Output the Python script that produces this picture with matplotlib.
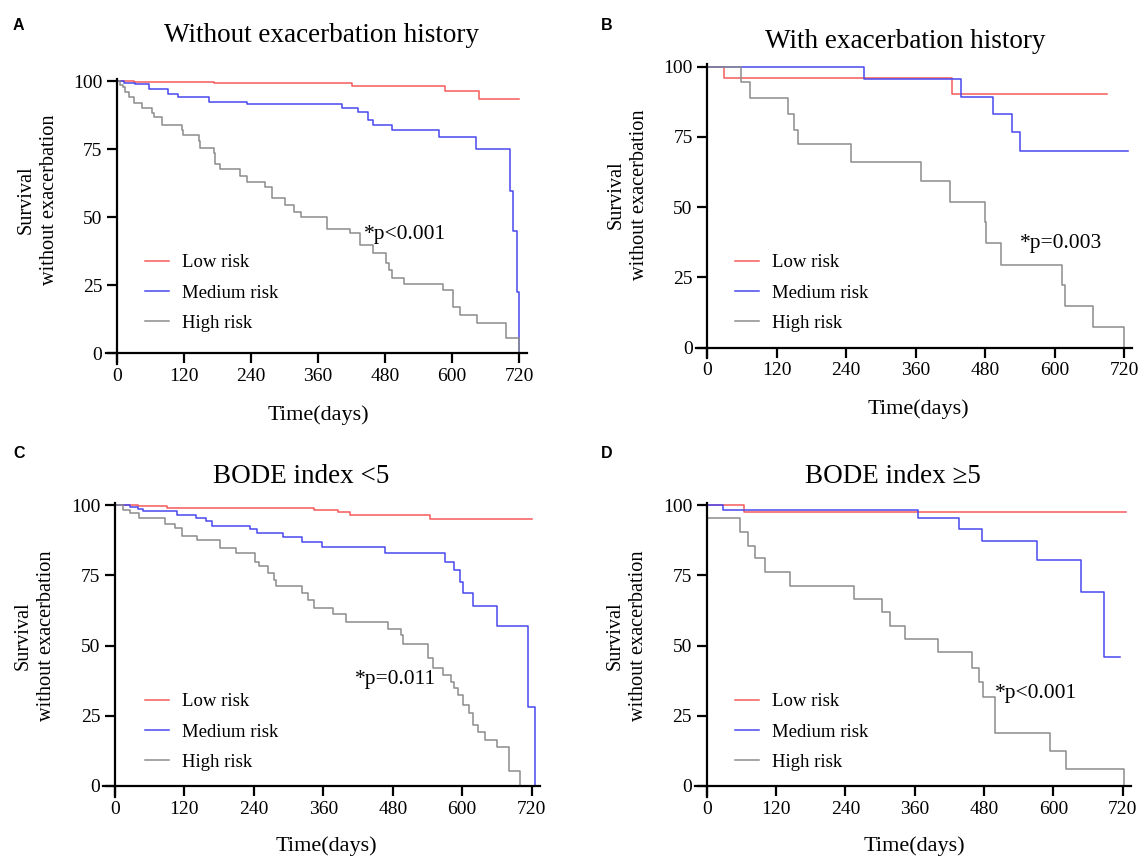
import matplotlib
matplotlib.use("Agg")
import matplotlib.pyplot as plt

plt.rcParams['font.family'] = ['Liberation Serif', 'DejaVu Serif']

# ---- data (days, survival %) ----
A_LOW_DAYS = [0, 30, 173, 421, 587, 648, 720]
A_LOW_SURV = [100, 99.7, 99.1, 98.3, 96.2, 93.3, 93.3]
A_MED_DAYS = [0, 12, 33, 58, 92, 110, 164, 232, 402, 432, 450, 459, 492, 576, 642, 703, 709, 716, 720]
A_MED_SURV = [100, 99.4, 98.8, 96.9, 95.2, 94.2, 92.4, 91.4, 90.0, 88.5, 85.7, 83.8, 82.0, 79.3, 74.9, 59.7, 44.9, 22.5, 0]
A_HIGH_DAYS = [0, 6, 11, 15, 21, 30, 45, 63, 66, 81, 116, 119, 146, 149, 173, 176, 185, 220, 232, 265,
               277, 301, 316, 329, 375, 417, 435, 459, 482, 486, 493, 513, 584, 602, 614, 644, 697, 720]
A_HIGH_SURV = [100, 98.5, 97.9, 96.1, 94.2, 92.0, 90.2, 88.4, 86.9, 83.8, 82.0, 80.1, 77.9, 75.5, 73.4, 69.7,
               67.5, 65.1, 63.0, 61.2, 56.9, 54.4, 52.0, 50.1, 45.8, 44.0, 39.7, 36.9, 33.0, 30.5, 27.5, 25.4,
               23.2, 17.0, 14.0, 11.3, 5.5, 0]

B_LOW_DAYS = [0, 29, 422, 690]
B_LOW_SURV = [100, 96.1, 90.2, 90.2]
B_MED_DAYS = [0, 271, 438, 493, 527, 540, 727]
B_MED_SURV = [100, 95.6, 89.3, 83.0, 76.6, 70.0, 70.0]
B_HIGH_DAYS = [0, 59, 73, 140, 150, 156, 248, 369, 420, 480, 482, 507, 613, 618, 666, 720]
B_HIGH_SURV = [100, 94.4, 89.0, 83.0, 77.5, 72.4, 66.2, 59.5, 52.0, 44.6, 37.1, 29.4, 22.3, 14.9, 7.2, 0]

C_LOW_DAYS = [0, 40, 89, 343, 386, 406, 544, 720]
C_LOW_SURV = [100, 99.5, 98.8, 98.2, 97.6, 96.4, 95.0, 95.0]
C_MED_DAYS = [0, 26, 40, 49, 107, 140, 158, 167, 233, 245, 290, 323, 357, 467, 570, 585, 596, 601, 618,
              660, 714, 725]
C_MED_SURV = [100, 99.3, 98.6, 97.9, 96.4, 95.3, 94.3, 92.6, 91.5, 89.9, 88.5, 87.0, 85.2, 82.8, 79.8,
              76.9, 72.5, 68.6, 64.2, 57.1, 28.2, 0]
C_HIGH_DAYS = [0, 14, 26, 42, 86, 104, 115, 142, 181, 209, 242, 248, 265, 274, 279, 323, 334, 344, 377,
               400, 472, 495, 498, 541, 550, 567, 580, 585, 593, 602, 611, 619, 628, 639, 660, 680, 699]
C_HIGH_SURV = [100, 98.2, 97.0, 95.5, 93.4, 91.7, 89.1, 87.5, 84.8, 82.8, 79.8, 78.4, 75.7, 73.3, 71.3,
               68.6, 66.2, 63.5, 61.1, 58.5, 55.9, 53.7, 50.4, 45.4, 42.1, 39.5, 37.1, 34.8, 32.4, 28.8,
               25.9, 21.7, 19.3, 16.4, 14.0, 5.3, 0]

D_LOW_DAYS = [0, 65, 725]
D_LOW_SURV = [100, 97.6, 97.6]
D_MED_DAYS = [0, 29, 366, 437, 476, 572, 647, 688, 716]
D_MED_SURV = [100, 98.3, 95.3, 91.5, 87.2, 80.4, 69.2, 45.8, 45.8]
D_HIGH_DAYS = [0, 1, 58, 72, 84, 101, 144, 255, 303, 318, 343, 401, 460, 472, 478, 499, 594, 622, 722]
D_HIGH_SURV = [100, 95.3, 90.3, 85.4, 81.0, 76.3, 71.3, 66.5, 61.8, 56.9, 52.2, 47.6, 42.1, 37.1, 31.6,
               18.7, 12.5, 6.0, 0]

GROUPS = ['Low risk', 'Medium risk', 'High risk']
COLORS = ['#F55A5A', '#4848F0', '#8C8C8C']
XTICKS = [0, 120, 240, 360, 480, 600, 720]
YTICKS = [0, 25, 50, 75, 100]

W, H = 1141, 859
XLIM = (-20, 734)
YLIM = (-3.8, 100.8)

fig = plt.figure(figsize=(W / 100, H / 100), dpi=100)


def add_panel(x0, x720, y100, y0):
    ppx = (x720 - x0) / 720
    ppy = (y0 - y100) / 100
    left = x0 + XLIM[0] * ppx
    right = x0 + XLIM[1] * ppx
    top = y0 - YLIM[1] * ppy
    bottom = y0 - YLIM[0] * ppy
    ax = fig.add_axes([left / W, 1 - bottom / H, (right - left) / W, (bottom - top) / H])
    ax.set_xlim(*XLIM)
    ax.set_ylim(*YLIM)
    for s in ['top', 'right']:
        ax.spines[s].set_visible(False)
    ax.spines['left'].set_position(('data', 0))
    ax.spines['bottom'].set_position(('data', 0))
    for s in ['left', 'bottom']:
        ax.spines[s].set_linewidth(1.6)
    ax.set_xticks(XTICKS)
    ax.set_yticks(YTICKS)
    ax.tick_params(direction='out', length=7.5, width=1.6, labelsize=14, pad=3)
    return ax


def ftext(x, y, s, **kw):
    fig.text(x / W, 1 - y / H, s, **kw)


panels = [
    # axes pixels, data, title, p text, legend anchor, ylabel pos, xlabel pos, letter pos
    dict(px=(117, 519.3, 81, 353.3),
         data=[(A_LOW_DAYS, A_LOW_SURV), (A_MED_DAYS, A_MED_SURV), (A_HIGH_DAYS, A_HIGH_SURV)],
         title='Without exacerbation history', tpos=(322, 42), p='*p<0.001', ppos=(364, 239),
         leg=(145, 293), ylab=(38, 200), xlab=(318, 415), letter='A', lpos=(18, 26)),
    dict(px=(707.3, 1124, 66.7, 347.7),
         data=[(B_LOW_DAYS, B_LOW_SURV), (B_MED_DAYS, B_MED_SURV), (B_HIGH_DAYS, B_HIGH_SURV)],
         title='With exacerbation history', tpos=(905, 48), p='*p=0.003', ppos=(1020, 248),
         leg=(735, 293), ylab=(628, 195), xlab=(918, 409), letter='B', lpos=(607, 26)),
    dict(px=(115, 531.7, 505, 786),
         data=[(C_LOW_DAYS, C_LOW_SURV), (C_MED_DAYS, C_MED_SURV), (C_HIGH_DAYS, C_HIGH_SURV)],
         title='BODE index <5', tpos=(301, 483), p='*p=0.011', ppos=(355, 684),
         leg=(145, 732), ylab=(35, 636), xlab=(326, 846), letter='C', lpos=(19, 454)),
    dict(px=(706.7, 1122.7, 505, 786),
         data=[(D_LOW_DAYS, D_LOW_SURV), (D_MED_DAYS, D_MED_SURV), (D_HIGH_DAYS, D_HIGH_SURV)],
         title='BODE index \u22655', tpos=(893, 483), p='*p<0.001', ppos=(995, 698),
         leg=(735, 732), ylab=(627, 636), xlab=(914, 846), letter='D', lpos=(607, 454)),
]

for p in panels:
    ax = add_panel(*p['px'])
    for (d, s), name, c in zip(p['data'], GROUPS, COLORS):
        ax.step(d, s, where='post', color=c, lw=1.1, label=name, clip_on=False)
    lx, ly = p['leg']
    ax.legend(loc='center left', bbox_to_anchor=(lx / W, 1 - ly / H), bbox_transform=fig.transFigure,
              frameon=False, fontsize=13.5, handlelength=1.28, handletextpad=0.7,
              labelspacing=0.7, borderpad=0, borderaxespad=0)
    ftext(*p['tpos'], p['title'], fontsize=19.5, ha='center', va='baseline')
    ftext(*p['ppos'], p['p'], fontsize=15.5, ha='left', va='baseline')
    ftext(*p['ylab'], 'Survival\nwithout exacerbation', fontsize=14.6, rotation=90,
          ha='center', va='center', multialignment='center', linespacing=1.3)
    ftext(*p['xlab'], 'Time(days)', fontsize=16, ha='center', va='center')
    ftext(*p['lpos'], p['letter'], fontsize=11.5, fontweight='bold', family='Liberation Sans',
          ha='center', va='center')

fig.savefig('out.png', dpi=100)
